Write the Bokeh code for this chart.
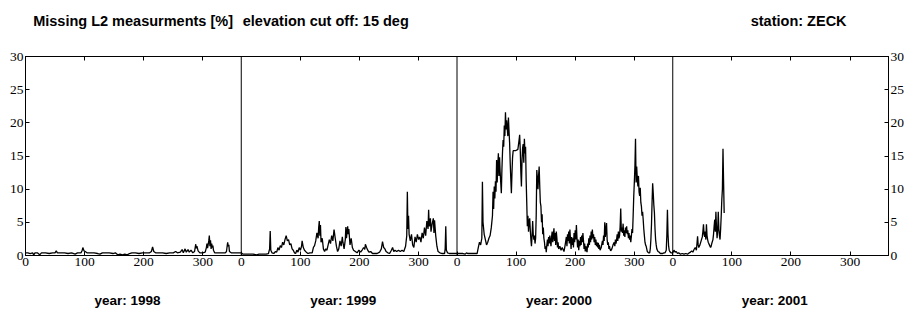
from bokeh.plotting import figure
from bokeh.models import Range1d, LinearAxis, FixedTicker, Span
from bokeh.embed import file_html
from bokeh.resources import INLINE

# ---------------- data (day of year, missing L2 [%]) ----------------
years = ["1998", "1999", "2000", "2001"]
days_per_year = 365
day_ticks = [0, 100, 200, 300]
day_tick_labels = ["0", "100", "200", "300"]
y_ticks = [0, 5, 10, 15, 20, 25, 30]

titles = ["Missing L2 measurments [%]", "elevation cut off: 15 deg", "station: ZECK"]
title_centers = [182, 508, 1308]   # where each heading sits along the day axis

data_1998 = [(0,0.4),(4,0.4),(8,0.3),(12,0.4),(14,0.1),(16,0.4),(20,0.4),(24,0.1),(27,0.4),(34,0.4),
             (40,0.3),(46,0.4),(50,0.4),(52,0.7),(54,0.4),(60,0.4),(66,0.4),(72,0.3),(78,0.4),(84,0.2),
             (88,0.4),(94,0.4),(96,0.8),(97,1.2),(99,0.7),(101,0.6),(104,0.4),(110,0.4),(116,0.4),(122,0.3),
             (126,0.2),(130,0.4),(136,0.4),(142,0.4),(148,0.3),(152,0.4),(156,0.1),(160,0.2),(164,0.1),(168,0.2),
             (172,0.1),(176,0.3),(180,0.4),(186,0.4),(192,0.3),(198,0.4),(204,0.4),(210,0.4),(213,0.6),(215,1.3),
             (217,0.6),(220,0.4),(226,0.4),(232,0.4),(238,0.3),(244,0.4),(250,0.4),(254,0.6),(257,0.4),(262,0.5),
             (265,0.9),(267,0.4),(270,1.0),(272,0.5),(275,0.9),(277,0.5),(280,0.8),(283,0.4),(286,0.6),(288,1.7),
             (289,1.1),(290,1.4),(292,0.7),(295,0.4),(300,0.4),(304,0.5),(306,1.2),(307,1.8),(308,1.1),(309,1.6),
             (310,2.2),(311,3.0),(312,1.4),(313,2.3),(314,1.0),(315,1.8),(316,1.2),(317,1.5),(318,0.8),(320,0.4),
             (326,0.4),(332,0.4),(338,0.4),(340,0.6),(342,2.0),(343,1.4),(344,1.6),(345,0.6),(348,0.4),(354,0.4),
             (360,0.4),(364,0.4)]

data_1999 = [(0,0.4),(3,0.2),(8,0.2),(14,0.2),(20,0.2),(26,0.1),(30,0.2),(36,0.2),(42,0.2),(46,0.3),
             (48,1.0),(49,3.7),(50,0.8),(52,0.4),(55,0.3),(58,0.6),(60,0.5),(62,1.2),(64,0.8),(66,1.5),
             (68,1.2),(70,2.0),(72,1.6),(74,2.4),(76,3.0),(78,2.2),(80,2.4),(82,1.6),(84,1.8),(86,1.0),
             (88,0.8),(90,0.4),(92,0.3),(94,0.8),(96,0.5),(98,1.2),(100,0.8),(102,1.4),(103,2.2),(105,1.2),
             (107,0.8),(110,0.5),(113,0.3),(116,0.4),(120,0.4),(122,1.2),(124,1.5),(126,2.2),(128,3.4),(130,2.6),
             (131,4.2),(132,5.2),(133,3.0),(134,4.6),(135,2.0),(137,2.6),(139,1.0),(141,0.6),(143,1.0),(145,0.8),
             (147,1.6),(149,2.4),(151,1.8),(153,3.0),(155,2.2),(157,3.9),(159,2.6),(161,1.4),(163,0.6),(165,1.0),
             (167,2.2),(169,1.4),(171,2.8),(172,2.0),(174,1.0),(176,2.4),(177,4.3),(178,2.6),(180,4.4),(181,3.2),
             (182,4.0),(184,1.6),(186,2.6),(188,1.2),(190,0.8),(193,0.6),(196,0.4),(199,0.8),(202,0.5),(205,0.9),
             (207,1.2),(209,0.9),(210,1.7),(212,1.2),(214,0.8),(216,0.5),(219,0.6),(222,0.3),(226,0.3),(230,0.3),
             (234,0.5),(237,1.0),(239,2.1),(241,1.2),(243,1.0),(245,0.6),(248,0.4),(251,0.3),(254,0.8),(256,1.2),
             (258,0.6),(260,0.8),(263,0.6),(266,0.8),(269,0.6),(272,0.8),(275,0.6),(278,1.4),(280,3.0),(281,9.6),
             (282,4.0),(283,6.0),(284,3.2),(286,2.2),(288,3.2),(290,1.6),(292,1.2),(294,2.8),(296,2.0),(298,3.2),
             (300,2.4),(302,2.8),(304,2.0),(306,3.4),(308,2.6),(310,4.2),(312,3.0),(314,5.2),(316,4.0),(317,6.9),
             (318,4.4),(320,5.6),(321,3.6),(323,4.8),(325,5.6),(326,3.4),(327,5.3),(329,3.0),(331,1.4),(333,0.6),
             (336,0.4),(340,0.3),(344,0.3),(345,1.0),(346,4.4),(347,0.8),(349,0.4),(352,0.3),(356,0.3),(360,0.3),
             (364,0.3)]

data_2000 = [(0,0.3),(5,0.3),(10,0.3),(14,0.2),(16,0.4),(18,0.3),(22,0.3),(26,0.3),(30,0.3),(34,0.3),
             (36,1.2),(38,2.0),(40,1.6),(42,2.6),(43,11.1),(44,5.0),(46,3.2),(48,2.4),(50,1.6),(52,2.0),
             (54,2.6),(56,3.0),(58,4.2),(60,6.0),(61,9.6),(62,7.0),(63,10.4),(64,8.6),(65,11.2),(66,9.6),
             (67,14.4),(68,11.0),(69,13.6),(70,15.4),(71,12.0),(72,14.8),(73,12.6),(74,11.0),(75,9.4),(76,13.0),
             (77,15.6),(78,17.4),(79,16.4),(80,19.6),(81,18.0),(82,21.6),(83,19.0),(84,20.4),(85,19.2),(86,18.0),
             (87,20.8),(88,18.8),(89,17.0),(90,14.0),(91,11.6),(92,9.4),(93,12.4),(94,14.8),(95,15.8),(99,15.8),
             (103,16.0),(105,17.4),(106,18.2),(107,16.0),(108,12.6),(109,10.4),(110,14.4),(111,16.2),(112,16.8),(113,14.0),
             (114,17.6),(115,15.4),(116,16.4),(117,11.4),(118,8.0),(119,4.4),(120,6.0),(121,3.6),(122,5.2),(123,5.6),
             (124,3.8),(125,2.4),(126,1.4),(127,3.0),(128,5.2),(129,3.2),(130,2.4),(131,3.0),(132,1.8),(133,2.6),
             (134,6.0),(135,12.9),(136,11.6),(137,10.0),(138,12.0),(139,13.4),(140,10.4),(141,8.0),(142,7.4),(143,5.0),
             (144,6.2),(145,3.2),(146,4.2),(147,2.6),(148,2.0),(149,1.0),(150,1.4),(151,0.5),(152,1.6),(153,2.4),
             (154,1.4),(155,2.8),(156,1.8),(157,3.0),(158,2.2),(159,1.4),(160,2.8),(161,3.6),(162,2.0),(163,3.0),
             (164,4.1),(165,2.2),(166,3.4),(167,1.6),(168,3.6),(169,2.6),(170,1.2),(171,2.0),(172,1.0),(174,1.4),
             (176,0.8),(178,1.2),(180,0.8),(181,0.6),(183,1.6),(185,2.8),(186,1.4),(187,3.2),(188,2.2),(189,3.6),
             (190,1.8),(191,3.9),(192,2.4),(193,1.0),(194,2.8),(195,1.6),(196,2.6),(197,1.2),(198,3.4),(199,2.0),
             (200,3.8),(201,2.4),(202,4.6),(203,2.6),(204,1.2),(205,2.4),(206,0.8),(207,2.2),(208,1.4),(209,2.8),
             (210,1.6),(211,3.0),(212,2.0),(213,3.4),(214,2.2),(215,1.0),(216,1.8),(217,0.6),(218,1.4),(219,0.8),
             (220,0.5),(221,1.8),(222,1.2),(223,2.6),(224,1.6),(225,3.0),(226,2.0),(227,3.6),(228,2.4),(229,3.9),
             (230,2.6),(231,3.2),(232,2.0),(233,2.8),(234,1.6),(235,2.4),(236,1.4),(237,2.0),(238,1.2),(239,1.9),
             (240,1.0),(241,1.6),(242,0.8),(244,1.2),(246,2.2),(247,1.6),(248,3.0),(249,2.2),(250,5.0),(251,2.8),
             (252,3.8),(253,4.9),(254,2.4),(255,1.6),(256,2.0),(257,1.0),(258,1.4),(259,0.9),(260,0.7),(262,1.0),
             (264,1.6),(266,2.0),(267,1.4),(268,2.4),(269,1.8),(270,2.4),(271,3.2),(272,2.2),(273,3.6),(274,2.6),
             (275,3.0),(276,4.4),(277,7.1),(278,3.6),(279,4.2),(280,3.4),(281,4.8),(282,3.0),(283,3.8),(284,2.8),
             (285,4.2),(286,3.4),(287,4.4),(288,3.2),(289,3.8),(290,2.6),(291,3.4),(292,2.4),(293,3.0),(294,2.0),
             (295,2.9),(296,4.0),(297,3.4),(298,6.0),(299,8.9),(300,11.0),(301,13.4),(302,17.6),(303,11.0),(304,13.4),
             (305,11.6),(306,10.4),(307,12.0),(308,9.6),(309,9.0),(310,10.2),(311,8.0),(312,7.4),(313,6.0),(314,6.6),
             (315,5.4),(316,4.0),(317,3.0),(318,2.0),(319,1.6),(320,1.4),(321,1.0),(322,0.6),(324,0.4),(326,0.4),
             (327,1.0),(328,2.4),(329,4.6),(330,8.0),(331,10.9),(332,9.4),(333,7.6),(334,6.4),(335,4.0),(336,2.4),
             (337,1.6),(338,1.0),(340,0.6),(342,0.5),(344,0.3),(346,0.3),(348,0.3),(350,0.4),(352,0.4),(354,0.8),
             (355,3.0),(356,6.9),(357,3.2),(358,1.4),(359,0.8),(360,0.6),(362,0.4),(364,0.4)]

data_2001 = [(0,0.4),(2,0.8),(4,0.5),(6,0.6),(8,0.3),(10,0.4),(13,0.2),(16,0.3),(19,0.2),(22,0.3),
             (25,0.2),(28,0.4),(30,0.5),(32,0.7),(34,0.5),(36,0.9),(38,1.2),(40,0.8),(41,1.8),(42,2.9),
             (43,1.6),(44,1.2),(46,1.6),(48,2.2),(50,2.8),(51,3.6),(52,4.7),(53,3.2),(54,2.8),(55,3.6),
             (56,2.4),(57,4.7),(58,3.0),(59,2.4),(60,2.0),(62,1.6),(64,1.2),(65,1.4),(66,1.8),(68,2.4),
             (69,3.2),(70,4.4),(71,5.4),(72,3.6),(73,6.6),(74,4.2),(75,2.6),(76,3.8),(77,6.6),(78,4.0),
             (79,3.0),(80,2.4),(81,4.0),(82,6.0),(83,8.4),(84,10.0),(85,16.1),(86,11.1),(87,6.4)]

series = [data_1998, data_1999, data_2000, data_2001]

# ---------------- build continuous x ----------------
xs, ys = [], []
for k, data in enumerate(series):
    for d, v in data:
        xs.append(k * days_per_year + d)
        ys.append(v)

n_years = len(years)
x_end = n_years * days_per_year

SERIF = "Liberation Serif"
SANS = "Liberation Sans"

p = figure(width=907, height=310, output_backend="svg", toolbar_location=None,
           x_range=Range1d(0, x_end), y_range=Range1d(0, 30),
           x_axis_location=None, y_axis_location=None,
           min_border_left=25, min_border_right=0, min_border_top=56, min_border_bottom=54)
p.xgrid.visible = False
p.ygrid.visible = False
p.outline_line_color = "black"
p.outline_line_alpha = 1.0
p.outline_line_width = 1
p.background_fill_color = "white"
p.border_fill_color = "white"

# bottom axis with per-year day ticks
xt = [k * days_per_year + t for k in range(n_years) for t in day_ticks]
xlab = {k * days_per_year + t: lab for k in range(n_years) for t, lab in zip(day_ticks, day_tick_labels)}
xb = LinearAxis(ticker=FixedTicker(ticks=xt), major_label_overrides=xlab,
                major_tick_in=4, major_tick_out=0, minor_tick_line_color=None,
                major_label_standoff=2, axis_line_color="black", major_tick_line_color="black",
                major_label_text_font=SERIF, major_label_text_font_size="13.5px",
                major_label_text_color="black")
p.add_layout(xb, "below")

# year names below the day axis
year_pos = [k * days_per_year + days_per_year / 2 - 10 for k in range(n_years)]
xy = LinearAxis(ticker=FixedTicker(ticks=year_pos),
                major_label_overrides={pos: "year: " + y for pos, y in zip(year_pos, years)},
                major_tick_line_color=None, minor_tick_line_color=None, axis_line_color=None,
                major_tick_in=0, major_tick_out=0, major_label_standoff=24,
                major_label_text_font=SANS, major_label_text_font_style="bold",
                major_label_text_font_size="13.5px", major_label_text_color="black")
p.add_layout(xy, "below")

# top axis: ticks only
xt_top = [k * days_per_year + t for k in range(n_years) for t in day_ticks[1:]]
xa = LinearAxis(ticker=FixedTicker(ticks=xt_top), major_label_overrides={t: "" for t in xt_top},
                major_tick_in=4, major_tick_out=0, minor_tick_line_color=None,
                major_label_standoff=0, major_label_text_font_size="1px",
                axis_line_color="black", major_tick_line_color="black")
p.add_layout(xa, "above")

# headings above the frame
xh = LinearAxis(ticker=FixedTicker(ticks=title_centers),
                major_label_overrides={pos: t for pos, t in zip(title_centers, titles)},
                major_tick_line_color=None, minor_tick_line_color=None, axis_line_color=None,
                major_tick_in=0, major_tick_out=0, major_label_standoff=28,
                major_label_text_font=SANS, major_label_text_font_style="bold",
                major_label_text_font_size="14.5px", major_label_text_color="black")
p.add_layout(xh, "above")

# left axis
yl = LinearAxis(ticker=FixedTicker(ticks=y_ticks), major_tick_in=4, major_tick_out=0,
                minor_tick_line_color=None, major_label_standoff=2,
                axis_line_color="black", major_tick_line_color="black",
                major_label_text_font=SERIF, major_label_text_font_size="13.5px",
                major_label_text_color="black")
p.add_layout(yl, "left")

# right axis
yr = LinearAxis(ticker=FixedTicker(ticks=y_ticks), major_tick_in=4, major_tick_out=0,
                minor_tick_line_color=None, major_label_standoff=2,
                axis_line_color="black", major_tick_line_color="black",
                major_label_text_font=SERIF, major_label_text_font_size="13.5px",
                major_label_text_color="black")
p.add_layout(yr, "right")

# year separators
for k in range(1, n_years):
    p.add_layout(Span(location=k * days_per_year, dimension="height",
                      line_color="black", line_width=1))

# data line
p.line(xs, ys, line_color="black", line_width=1.3)

open("out.html", "w").write(file_html(p, INLINE))
